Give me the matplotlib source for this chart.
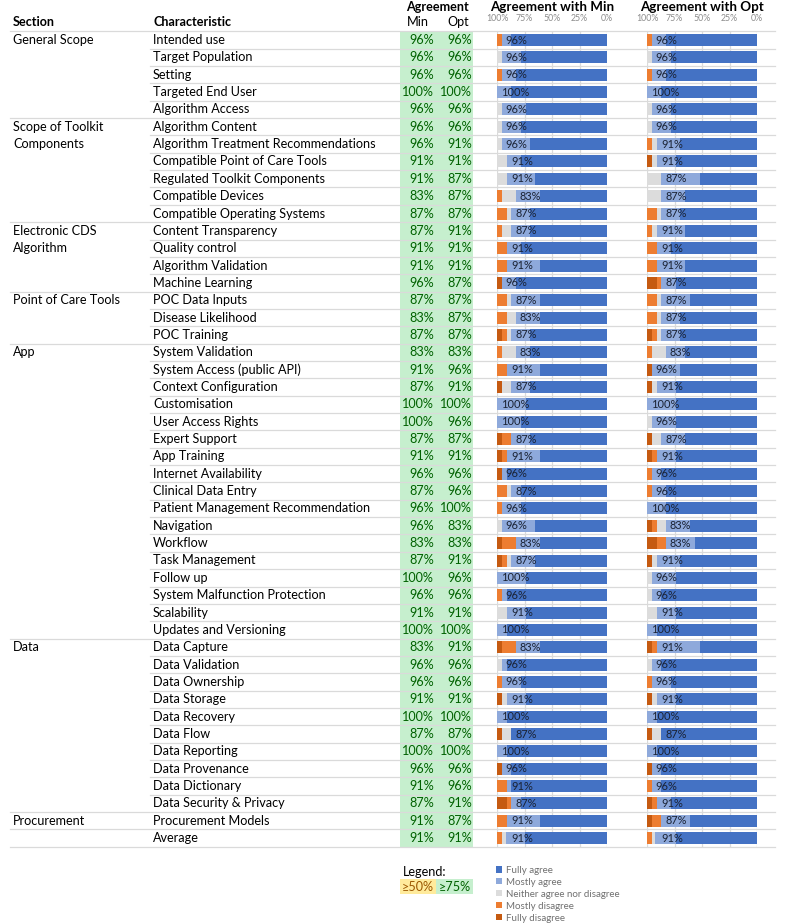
import matplotlib
matplotlib.use("Agg")
import matplotlib.pyplot as plt
import numpy as np

plt.rcParams["font.family"] = ["Lato", "DejaVu Sans"]

# --- data -------------------------------------------------------------------
characteristics = [
    "Intended use", "Target Population", "Setting", "Targeted End User", "Algorithm Access",
    "Algorithm Content", "Algorithm Treatment Recommendations", "Compatible Point of Care Tools",
    "Regulated Toolkit Components", "Compatible Devices", "Compatible Operating Systems",
    "Content Transparency", "Quality control", "Algorithm Validation", "Machine Learning",
    "POC Data Inputs", "Disease Likelihood", "POC Training",
    "System Validation", "System Access (public API)", "Context Configuration", "Customisation",
    "User Access Rights", "Expert Support", "App Training", "Internet Availability",
    "Clinical Data Entry", "Patient Management Recommendation", "Navigation", "Workflow",
    "Task Management", "Follow up", "System Malfunction Protection", "Scalability",
    "Updates and Versioning",
    "Data Capture", "Data Validation", "Data Ownership", "Data Storage", "Data Recovery",
    "Data Flow", "Data Reporting", "Data Provenance", "Data Dictionary", "Data Security & Privacy",
    "Procurement Models", "Average",
]

# section label lines (row index, text) and rows after which a section ends
section_labels = [(0, "General Scope"), (5, "Scope of Toolkit"), (6, "Components"),
                  (11, "Electronic CDS"), (12, "Algorithm"), (15, "Point of Care Tools"),
                  (18, "App"), (35, "Data"), (45, "Procurement")]
section_ends = [4, 10, 14, 17, 34, 44, 45, 46]

agree_min = [96, 96, 96, 100, 96, 96, 96, 91, 91, 83, 87, 87, 91, 91, 96, 87, 83, 87,
             83, 91, 87, 100, 100, 87, 91, 96, 87, 96, 96, 83, 87, 100, 96, 91, 100,
             83, 96, 96, 91, 100, 87, 100, 96, 91, 87, 91, 91]
agree_opt = [96, 96, 96, 100, 96, 96, 91, 91, 87, 87, 87, 91, 91, 91, 87, 87, 87, 87,
             83, 96, 91, 100, 96, 87, 91, 96, 96, 100, 83, 83, 91, 96, 96, 91, 100,
             91, 96, 96, 91, 100, 87, 100, 96, 96, 91, 87, 91]

n_respondents = 23

# responses (counts of 23) -- "Agreement with Min"
min_fully_agree = [20, 18, 19, 20, 17, 18, 16, 18, 15, 14, 16, 16, 18, 14, 19, 14, 14, 16,
                   16, 14, 16, 17, 18, 16, 14, 21, 18, 18, 15, 14, 15, 17, 21, 17, 21,
                   14, 21, 18, 17, 21, 20, 21, 20, 20, 18, 14, 17.2]
min_mostly_agree = [2, 4, 3, 3, 5, 4, 6, 3, 6, 5, 4, 4, 3, 7, 3, 6, 5, 4,
                    3, 7, 4, 6, 5, 4, 7, 1, 2, 4, 7, 5, 5, 6, 1, 4, 2,
                    5, 1, 4, 4, 2, 0, 2, 2, 1, 2, 7, 4.0]
min_neither = [0, 1, 0, 0, 1, 1, 1, 2, 2, 3, 1, 2, 0, 0, 0, 1, 2, 1,
               3, 0, 2, 0, 0, 0, 0, 0, 1, 0, 1, 0, 1, 0, 0, 2, 0,
               0, 1, 0, 1, 0, 2, 0, 0, 0, 0, 0, 0.7]
min_mostly_disagree = [1, 0, 1, 0, 0, 0, 0, 0, 0, 1, 2, 1, 2, 2, 0, 2, 2, 1,
                       1, 2, 0, 0, 0, 2, 1, 0, 2, 1, 0, 3, 1, 0, 1, 0, 0,
                       3, 0, 1, 0, 0, 0, 0, 0, 2, 1, 2, 1.0]
min_fully_disagree = [0, 0, 0, 0, 0, 0, 0, 0, 0, 0, 0, 0, 0, 0, 1, 0, 0, 1,
                      0, 0, 1, 0, 0, 1, 1, 1, 0, 0, 0, 1, 1, 0, 0, 0, 0,
                      1, 0, 0, 1, 0, 1, 0, 1, 0, 2, 0, 0.1]

# responses (counts of 23) -- "Agreement with Opt"
opt_fully_agree = [19, 18, 19, 20, 18, 18, 16, 17, 12, 15, 16, 15, 18, 15, 17, 14, 16, 16,
                   15, 16, 17, 17, 17, 15, 17, 20, 19, 19, 14, 13, 16, 17, 20, 17, 21,
                   12, 20, 18, 17, 21, 20, 21, 20, 20, 18, 14, 17.0]
opt_mostly_agree = [3, 4, 3, 3, 4, 4, 5, 4, 8, 5, 4, 6, 3, 6, 3, 6, 4, 4,
                    4, 6, 4, 6, 5, 5, 4, 2, 3, 4, 5, 6, 5, 5, 2, 4, 2,
                    9, 2, 4, 4, 2, 0, 2, 2, 2, 3, 6, 4.3]
opt_neither = [0, 1, 0, 0, 1, 1, 1, 1, 3, 3, 1, 1, 0, 0, 0, 1, 1, 1,
               3, 0, 1, 0, 1, 2, 0, 0, 0, 0, 2, 0, 1, 1, 1, 2, 0,
               0, 1, 0, 1, 0, 2, 0, 0, 0, 0, 0, 0.6]
opt_mostly_disagree = [1, 0, 1, 0, 0, 0, 1, 0, 0, 0, 2, 1, 2, 2, 1, 2, 2, 1,
                       1, 0, 0, 0, 0, 0, 1, 1, 1, 0, 1, 2, 0, 0, 0, 0, 0,
                       1, 0, 1, 0, 0, 0, 0, 0, 1, 1, 2, 1.0]
opt_fully_disagree = [0, 0, 0, 0, 0, 0, 0, 1, 0, 0, 0, 0, 0, 0, 2, 0, 0, 1,
                      0, 1, 1, 0, 0, 1, 1, 0, 0, 0, 1, 2, 1, 0, 0, 0, 0,
                      1, 0, 0, 1, 0, 1, 0, 1, 0, 1, 1, 0.1]

response_labels = ["Fully agree", "Mostly agree", "Neither agree nor disagree",
                   "Mostly disagree", "Fully disagree"]
response_colors = ["#4472C4", "#8EA9DB", "#DCDCDC", "#ED7D31", "#C55A11"]

# --- layout (pixel based) ----------------------------------------------------
W, H = 785, 923
row0, pitch = 40.0, 17.35
n_rows = len(characteristics)
row_y = row0 + np.arange(n_rows) * pitch
header_line = row0 - pitch / 2
line_color = "#DADADA"
green_bg, green_fg = "#C6EFCE", "#006100"
yellow_bg, yellow_fg = "#FFEB9C", "#9C5700"
fs = 9.1

fig = plt.figure(figsize=(W / 100, H / 100), dpi=100)
ax = fig.add_axes([0, 0, 1, 1])
ax.set_xlim(0, W)
ax.set_ylim(H, 0)
ax.axis("off")

# headers
ax.text(13, 22, "Section", fontsize=fs, fontweight="bold", va="center")
ax.text(153, 22, "Characteristic", fontsize=fs, fontweight="bold", va="center")
ax.text(437, 7, "Agreement", fontsize=fs, fontweight="bold", va="center", ha="center")
ax.text(418, 22, "Min", fontsize=fs, va="center", ha="center")
ax.text(458, 22, "Opt", fontsize=fs, va="center", ha="center")
ax.text(552, 7, "Agreement with Min", fontsize=9.6, fontweight="bold", va="center", ha="center")
ax.text(702, 7, "Agreement with Opt", fontsize=9.6, fontweight="bold", va="center", ha="center")

# agreement cells
ax.barh(row_y, 73, left=400, height=pitch, color=green_bg, zorder=1)
for y, name, a_min, a_opt in zip(row_y, characteristics, agree_min, agree_opt):
    ax.text(153, y, name, fontsize=fs, va="center")
    ax.text(434, y, f"{a_min}%", fontsize=fs, va="center", ha="right", color=green_fg)
    ax.text(472, y, f"{a_opt}%", fontsize=fs, va="center", ha="right", color=green_fg)

for i, label in section_labels:
    ax.text(13, row_y[i], label, fontsize=fs, va="center")

# row separator lines
ax.plot([10, 775], [header_line, header_line], color=line_color, lw=0.9, zorder=3)
for i in range(n_rows):
    y = row_y[i] + pitch / 2
    x0 = 10 if i in section_ends else 150
    ax.plot([x0, 775], [y, y], color=line_color, lw=0.9, zorder=3)

# legend for agreement colours
ax.text(403, 872, "Legend:", fontsize=fs, va="center")
ax.add_patch(plt.Rectangle((400, 879), 36, 15, color=yellow_bg, lw=0))
ax.add_patch(plt.Rectangle((436, 879), 37, 15, color=green_bg, lw=0))
ax.text(418, 887, "≥50%", fontsize=fs, va="center", ha="center", color=yellow_fg)
ax.text(455, 887, "≥75%", fontsize=fs, va="center", ha="center", color=green_fg)


def stacked_panel(x_left, series, agree):
    bax = fig.add_axes([x_left / W, 1 - 848 / H, 110 / W, (848 - header_line) / H])
    bax.set_xlim(100, 0)
    bax.set_ylim(848, header_line)
    bax.patch.set_alpha(0)
    for s in bax.spines.values():
        s.set_visible(False)
    bax.tick_params(length=0, labelsize=6.3, labelcolor="#8C8C8C", pad=6)
    bax.xaxis.tick_top()
    bax.set_xticks([100, 75, 50, 25, 0])
    bax.set_xticklabels(["100%", "75%", "50%", "25%", "0%"])
    bax.set_yticks([])
    bax.grid(axis="x", color=line_color, lw=0.9)
    bax.set_axisbelow(True)

    left = np.zeros(n_rows)
    handles = []
    for vals, color, lab in zip(series, response_colors, response_labels):
        pct = np.array(vals, dtype=float) * 100 / n_respondents
        h = bax.barh(row_y, pct, left=left, height=12, color=color, label=lab, zorder=2)
        handles.append(h)
        left += pct
    for y, a in zip(row_y, agree):
        bax.annotate(f"{a}%", (a, y), xytext=(3, 0), textcoords="offset points",
                     fontsize=7.9, va="center", ha="left", color="#1A2233", zorder=4)
    return handles


handles = stacked_panel(497, [min_fully_agree, min_mostly_agree, min_neither,
                              min_mostly_disagree, min_fully_disagree], agree_min)
stacked_panel(647, [opt_fully_agree, opt_mostly_agree, opt_neither,
                    opt_mostly_disagree, opt_fully_disagree], agree_opt)

fig.legend(handles, response_labels, loc="upper left", bbox_to_anchor=(491 / W, 1 - 861 / H),
           frameon=False, fontsize=7.0, labelcolor="#707070", handlelength=0.6,
           handleheight=0.6, handletextpad=0.4, labelspacing=0.3, borderpad=0)

fig.savefig("out.png", dpi=100)
